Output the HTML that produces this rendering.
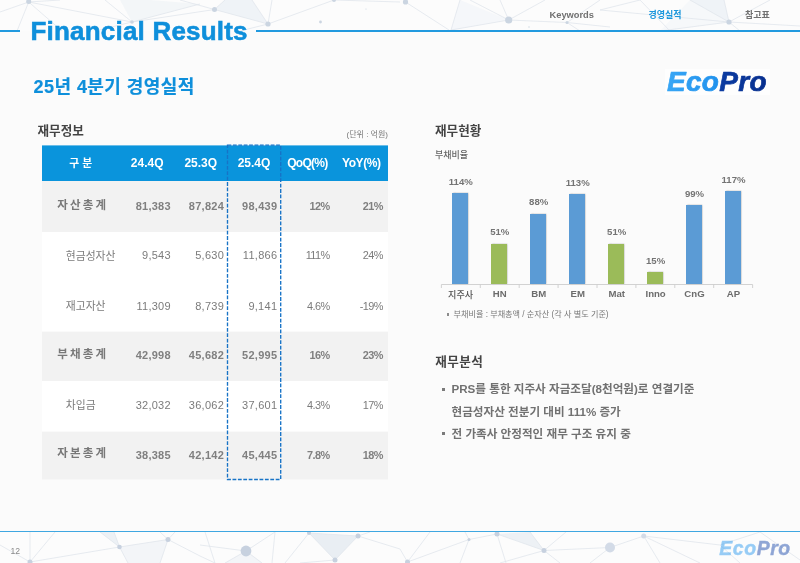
<!DOCTYPE html>
<html lang="ko">
<head>
<meta charset="utf-8">
<title>Financial Results</title>
<style>
*{margin:0;padding:0;box-sizing:border-box}
html,body{width:800px;height:563px;overflow:hidden;background:#fbfbfb}
body{position:relative;font-family:"Liberation Sans","Noto Sans CJK KR",sans-serif;color:#666}
.abs{position:absolute;white-space:nowrap;line-height:1}
.net{position:absolute;left:0;width:800px}
.hl{position:absolute;background:#229adf;height:2px}
#title{left:30.5px;top:18.3px;font-size:26px;font-weight:bold;color:#0e8fdb;letter-spacing:0.2px;-webkit-text-stroke:0.55px #0e8fdb}
.nav{font-size:9.3px;font-weight:bold;color:#707070;top:10.5px}
#sub{left:33.5px;top:77.5px;font-size:18px;font-weight:bold;color:#0e8fdb;letter-spacing:0.45px;-webkit-text-stroke:0.2px #0e8fdb}
.logo{font-style:italic;font-weight:bold;letter-spacing:-0.3px}
.logo .e{color:#1e93ee}
.logo .p{color:#0c3ea6}
.h2{font-size:12.6px;font-weight:bold;color:#444}
/* table */
#tbl{position:absolute;left:41.8px;top:145.4px;width:346.2px}
.row{position:absolute;left:0;width:346.2px}
.c{position:absolute;white-space:nowrap;line-height:1;font-size:11px;color:#7b7b7b}
.r{letter-spacing:.27px}
.b .c{font-weight:bold;color:#808080}
.r{text-align:right}
.b .c.lb{font-size:11.5px;letter-spacing:-0.5px;color:#787878}
.c.pc{letter-spacing:-0.55px;font-size:10.9px}
.w .c:first-child{font-size:10.8px}
.b .c{font-size:11px}
.b .c.pc{font-size:10.9px}
#hd{top:0;height:35.6px}
#hd .c{color:#fff;font-weight:bold;font-size:12px;text-align:center;top:11.6px}
#dash{position:absolute;left:226px;top:144px;width:56px;height:338px}
/* chart */
.bar{position:absolute;width:16.1px;background:#5b9bd5;box-shadow:1.3px 0 1.4px rgba(0,0,0,.42)}
.bar.gr{background:#9bbb59}
.vl{font-size:9.6px;font-weight:bold;color:#747474;text-align:center;width:40px}
.cl{font-size:9.6px;font-weight:bold;color:#6c6c6c;text-align:center;width:40px;top:288.8px}
.sq{position:absolute;width:3.3px;height:3.3px;background:#7a7a7a}
.bt{font-size:11.6px;font-weight:600;color:#717171}
</style>
</head>
<body>
<!-- header network -->
<svg class="net" style="top:0;height:31px" viewBox="0 0 800 31">
<rect width="800" height="31" fill="#fcfcfc"/>
<g fill="#eff3f7"><path d="M214.500 9.500 L268 24 L252 0 L225 0 Z"/><path d="M132 22 L200 4 L150 0 L120 0 Z" opacity=".7"/><path d="M460 0 L508.700 20 L451 30 Z" opacity=".55"/><path d="M690 0 L729 22 L724 0 Z"/><path d="M660 31 L729 22 L690 0 Z" opacity=".5"/></g>
<g stroke="#e1e6ec" stroke-width="0.8" fill="none">
<path d="M28.700 2 L0 12 M28.700 2 L17 31 M28.700 2 L62 31 M28.700 2 L132 22 M28.700 2 L60 0 M132 22 L105 0 M132 22 L200 4 M132 22 L95 31 M132 22 L214.500 9.500 M214.500 9.500 L180 0 M214.500 9.500 L268 24 M214.500 9.500 L225 0 M268 24 L252 0 M268 24 L272 0 M268 24 L334 0 M268 24 L240 31 M334 0 L400 2 M405.500 2 L449 30 M460 0 L451 30 M508.700 20 L451 30 M508.700 20 L500 0 M508.700 20 L470 0 M508.700 20 L545 0 M508.700 20 L567 22.500 L610 27 M567 22.500 L600 0 M567 22.500 L580 31 M729 22 L690 0 M729 22 L600 10 M729 22 L800 26 M729 22 L724 0 M729 22 L770 0 M729 22 L660 31 M729 22 L740 31 M640 0 L670 31 M600 10 L640 0"/>
</g>
<g fill="#cbd5e1"><circle cx="28.700" cy="1.500" r="2.500"/><circle cx="132" cy="22" r="1.800"/><circle cx="214.500" cy="9.500" r="2.500"/><circle cx="268" cy="24" r="2.600"/><circle cx="320.500" cy="22" r="1.400"/><circle cx="334" cy="0" r="2"/><circle cx="405.500" cy="2" r="2.600"/><circle cx="508.700" cy="20" r="3.600"/><circle cx="567" cy="22.500" r="1.500"/><circle cx="729" cy="22" r="2.600"/><circle cx="529" cy="27" r=".7"/><circle cx="366" cy="9" r=".6"/></g>
</svg>
<div class="hl" style="left:0;top:29.8px;width:20.2px;height:1.8px"></div>
<div class="hl" style="left:256.3px;top:29.8px;width:543.7px;height:1.8px"></div>
<div id="title" class="abs">Financial Results</div>
<div class="abs nav" style="left:549.5px">Keywords</div>
<div class="abs nav" style="left:648.5px;color:#1b97dc;font-size:9px;top:11px">경영실적</div>
<div class="abs nav" style="left:745px;font-size:9px;top:11px">참고표</div>

<div id="sub" class="abs">25년 4분기 경영실적</div>
<svg class="abs" style="left:655px;top:62px;width:125px;height:40px" viewBox="655 62 125 40">
<defs>
<linearGradient id="ge" x1="0" x2="1" y1="0" y2="0"><stop offset="0" stop-color="#38a6f5"/><stop offset="1" stop-color="#0a7fe6"/></linearGradient>
<linearGradient id="gp" x1="0" x2="1" y1="0" y2="0"><stop offset="0" stop-color="#0f49b8"/><stop offset="1" stop-color="#08308f"/></linearGradient>
</defs>
<rect x="665" y="69" width="105" height="26" fill="#fefefe"/>
<text x="667" y="91.200" font-family="'Liberation Sans',sans-serif" font-weight="bold" font-style="italic" font-size="28" letter-spacing="0.3" stroke-width="0.7" stroke-linejoin="round"><tspan fill="url(#ge)" stroke="url(#ge)">Eco</tspan><tspan fill="url(#gp)" stroke="url(#gp)">Pro</tspan></text>
</svg>

<!-- left: table -->
<div class="abs h2" style="left:37.5px;top:125px">재무정보</div>
<div class="abs" style="left:340px;top:130.8px;font-size:8px;color:#777;width:48px;text-align:right">(단위 : 억원)</div>

<div id="tbl">
<svg style="position:absolute;left:0;top:-0.400px" width="346.2" height="336" viewBox="0 145 346.2 336"><rect x="0" y="145.400" width="346.200" height="35.600" fill="#0a94dc"/><rect x="0" y="181" width="346.200" height="51.100" fill="#f2f2f2"/><rect x="0" y="232.100" width="346.200" height="99.600" fill="#fff"/><rect x="0" y="331.700" width="346.200" height="49.400" fill="#f2f2f2"/><rect x="0" y="381.100" width="346.200" height="50.600" fill="#fff"/><rect x="0" y="431.700" width="346.200" height="47.800" fill="#f2f2f2"/></svg>
  <div class="row" id="hd">
    <div class="c" style="left:9px;width:60px;font-size:10.8px;top:13px">구 분</div>
    <div class="c" style="left:75.400px;width:60px">24.4Q</div>
    <div class="c" style="left:129px;width:60px">25.3Q</div>
    <div class="c" style="left:182.200px;width:60px">25.4Q</div>
    <div class="c" style="left:235.600px;width:60px;letter-spacing:-0.7px">QoQ(%)</div>
    <div class="c" style="left:289.500px;width:60px;letter-spacing:-0.45px">YoY(%)</div>
  </div>
  <div class="row g b" style="top:35.6px;height:51.1px">
    <div class="c lb" style="left:15.500px;top:19.2px">자 산 총 계</div>
    <div class="c r" style="right:217.1px;top:20.3px">81,383</div>
    <div class="c r" style="right:163.9px;top:20.3px">87,824</div>
    <div class="c r" style="right:110.7px;top:20.3px">98,439</div>
    <div class="c r pc" style="right:58.3px;top:20.3px">12%</div>
    <div class="c r pc" style="right:5.1px;top:20.3px">21%</div>
  </div>
  <div class="row w" style="top:86.7px;height:49.9px">
    <div class="c" style="left:24px;top:19.2px">현금성자산</div>
    <div class="c r" style="right:217.1px;top:18.1px">9,543</div>
    <div class="c r" style="right:163.9px;top:18.1px">5,630</div>
    <div class="c r" style="right:110.7px;top:18.1px">11,866</div>
    <div class="c r pc" style="right:58.3px;top:18.1px">111%</div>
    <div class="c r pc" style="right:5.1px;top:18.1px">24%</div>
  </div>
  <div class="row w" style="top:136.6px;height:49.7px">
    <div class="c" style="left:24px;top:18.7px">재고자산</div>
    <div class="c r" style="right:217.1px;top:18.7px">11,309</div>
    <div class="c r" style="right:163.9px;top:18.7px">8,739</div>
    <div class="c r" style="right:110.7px;top:18.7px">9,141</div>
    <div class="c r pc" style="right:58.3px;top:18.7px">4.6%</div>
    <div class="c r pc" style="right:5.1px;top:18.7px">-19%</div>
  </div>
  <div class="row g b" style="top:186.3px;height:49.3px">
    <div class="c lb" style="left:15.500px;top:17.4px">부 채 총 계</div>
    <div class="c r" style="right:217.1px;top:18.5px">42,998</div>
    <div class="c r" style="right:163.9px;top:18.5px">45,682</div>
    <div class="c r" style="right:110.7px;top:18.5px">52,995</div>
    <div class="c r pc" style="right:58.3px;top:18.5px">16%</div>
    <div class="c r pc" style="right:5.1px;top:18.5px">23%</div>
  </div>
  <div class="row w" style="top:235.6px;height:50.5px">
    <div class="c" style="left:24px;top:19.2px">차입금</div>
    <div class="c r" style="right:217.1px;top:19.4px">32,032</div>
    <div class="c r" style="right:163.9px;top:19.4px">36,062</div>
    <div class="c r" style="right:110.7px;top:19.4px">37,601</div>
    <div class="c r pc" style="right:58.3px;top:19.4px">4.3%</div>
    <div class="c r pc" style="right:5.1px;top:19.4px">17%</div>
  </div>
  <div class="row g b" style="top:286.1px;height:47.9px">
    <div class="c lb" style="left:15.500px;top:17.0px">자 본 총 계</div>
    <div class="c r" style="right:217.1px;top:18.1px">38,385</div>
    <div class="c r" style="right:163.9px;top:18.1px">42,142</div>
    <div class="c r" style="right:110.7px;top:18.1px">45,445</div>
    <div class="c r pc" style="right:58.3px;top:18.1px">7.8%</div>
    <div class="c r pc" style="right:5.1px;top:18.1px">18%</div>
  </div>
</div>
<svg id="dash" viewBox="0 0 56 338"><rect x="1.500" y="1.100" width="53.200" height="334.400" fill="none" stroke="#1773c6" stroke-width="1.350" stroke-dasharray="3.800 1.600"/></svg>

<!-- right: chart -->
<div class="abs h2" style="left:435px;top:125px">재무현황</div>
<div class="abs" style="left:435px;top:151.2px;font-size:9px;font-weight:500;color:#666">부채비율</div>

<div class="bar" style="left:452.3px;top:193px;height:91.3px"></div>
<div class="bar gr" style="left:491.3px;top:243.9px;height:40.4px"></div>
<div class="bar" style="left:530.2px;top:213.6px;height:70.7px"></div>
<div class="bar" style="left:569.2px;top:194px;height:90.3px"></div>
<div class="bar gr" style="left:608.2px;top:243.9px;height:40.4px"></div>
<div class="bar gr" style="left:647.1px;top:272.4px;height:11.9px"></div>
<div class="bar" style="left:686px;top:205px;height:79.3px"></div>
<div class="bar" style="left:725px;top:190.8px;height:93.5px"></div>
<svg class="abs" style="left:440px;top:283px;width:315px;height:6px" viewBox="0 0 315 6"><path d="M1.4 1.5 H312.6 M1.4 1.5 V5 M40.3 1.5 V5 M79.2 1.5 V5 M118.1 1.5 V5 M157 1.5 V5 M195.9 1.5 V5 M234.8 1.5 V5 M273.7 1.5 V5 M312.6 1.5 V5" stroke="#cdcdcd" stroke-width="0.9" fill="none"/></svg>

<div class="abs vl" style="left:440.8px;top:176.6px">114%</div>
<div class="abs vl" style="left:479.8px;top:226.6px">51%</div>
<div class="abs vl" style="left:518.7px;top:197px">88%</div>
<div class="abs vl" style="left:557.7px;top:178px">113%</div>
<div class="abs vl" style="left:596.7px;top:226.6px">51%</div>
<div class="abs vl" style="left:635.6px;top:255.5px">15%</div>
<div class="abs vl" style="left:674.5px;top:188.7px">99%</div>
<div class="abs vl" style="left:713.5px;top:174.8px">117%</div>

<div class="abs cl" style="left:440.6px;font-size:9.1px;top:291px;font-weight:500;color:#555">지주사</div>
<div class="abs cl" style="left:479.8px">HN</div>
<div class="abs cl" style="left:518.7px">BM</div>
<div class="abs cl" style="left:557.7px">EM</div>
<div class="abs cl" style="left:596.7px">Mat</div>
<div class="abs cl" style="left:635.6px">Inno</div>
<div class="abs cl" style="left:674.5px">CnG</div>
<div class="abs cl" style="left:713.5px">AP</div>

<div class="sq" style="left:446.5px;top:313.3px;width:2.4px;height:2.4px;background:#8c8c8c"></div>
<div class="abs" style="left:453.5px;top:310.7px;font-size:8.13px;color:#777">부채비율 : 부채총액 / 순자산 (각 사 별도 기준)</div>

<!-- analysis -->
<div class="abs h2" style="left:435.3px;top:355.6px;letter-spacing:.4px">재무분석</div>
<div class="sq" style="left:441.9px;top:387.7px"></div>
<div class="abs bt" style="left:451.5px;top:383.2px">PRS를 통한 지주사 자금조달(8천억원)로 연결기준</div>
<div class="abs bt" style="left:451.5px;top:405.9px">현금성자산 전분기 대비 111% 증가</div>
<div class="sq" style="left:441.9px;top:432px"></div>
<div class="abs bt" style="left:451.5px;top:427.9px">전 가족사 안정적인 재무 구조 유지 중</div>

<!-- footer -->
<div class="hl" style="left:0;top:530.8px;width:800px;background:#3fa7e1;height:1.9px"></div>
<svg class="net" style="top:532px;height:31px" viewBox="0 532 800 31">
<rect y="532" width="800" height="31" fill="#fcfcfc"/>
<g fill="#e9eef3"><path d="M309 533 L358 536 L335 560 Z"/><path d="M497 534 L544 550.500 L530 532 Z" opacity=".8"/><path d="M100 532 L119.500 547 L114 532 Z" opacity=".8"/><path d="M119.500 547 L168 539.500 L160 563 L128 563 Z" opacity=".5"/><path d="M246 551 L225 563 L262 563 Z" opacity=".5"/></g>
<g stroke="#e1e6ec" stroke-width="0.8" fill="none">
<path d="M30 562 L30 532 M30 562 L55 532 M30 562 L0 545 M30 562 L119.500 547 M119.500 547 L100 532 M119.500 547 L114 532 M119.500 547 L168 539.500 M119.500 547 L128 563 M168 539.500 L160 532 M168 539.500 L175 532 M168 539.500 L200 556 L215 563 M168 539.500 L160 563 M200 545 L246 551 M246 551 L275 532 M246 551 L225 563 M246 551 L262 563 M205 532 L215 563 M275 532 L272 563 M309 533 L335 560 M358 536 L335 560 M309 533 L358 536 M309 533 L285 563 M358 536 L400 549 L407.500 562 M358 536 L370 532 M335 560 L300 563 M407.500 562 L430 532 M407.500 562 L469 539.500 M469 539.500 L497 534 M469 539.500 L460 563 M469 539.500 L465 532 M497 534 L544 550.500 M497 534 L506 563 M544 550.500 L500 563 M544 550.500 L566 532 M544 550.500 L610 547.500 M544 550.500 L560 563 M530 532 L544 550.500 M643.700 536 L610 547.500 M643.700 536 L660 563 M643.700 536 L720 545 M643.700 536 L700 563 M610 547.500 L590 563 M720 545 L760 532 M720 545 L740 563 M760 532 L800 560"/>
</g>
<g fill="#c7d1df"><circle cx="30" cy="562" r="2.500"/><circle cx="119.500" cy="547" r="2.300"/><circle cx="168" cy="539.500" r="2.500"/><circle cx="246" cy="551" r="5.400"/><circle cx="309" cy="533" r="2"/><circle cx="358" cy="536" r="2.500"/><circle cx="335" cy="560" r="2.500"/><circle cx="407.500" cy="562" r="2.500"/><circle cx="469" cy="539.500" r="1.500"/><circle cx="497" cy="534" r="2.500"/><circle cx="544" cy="550.500" r="2.500"/><circle cx="610" cy="547.500" r="5" fill="#d3dbe7"/><circle cx="643.700" cy="536" r="2.500" fill="#d3dbe7"/></g>
</svg>
<div class="abs" style="left:10.5px;top:547px;font-size:8.6px;color:#8a8a8a">12</div>
<div class="abs logo" style="left:719.3px;top:538.8px;font-size:19.4px;letter-spacing:.6px;opacity:.45"><span class="e" style="-webkit-text-stroke:.45px #1e93ee">Eco</span><span class="p" style="-webkit-text-stroke:.45px #0c3ea6">Pro</span></div>
</body>
</html>
